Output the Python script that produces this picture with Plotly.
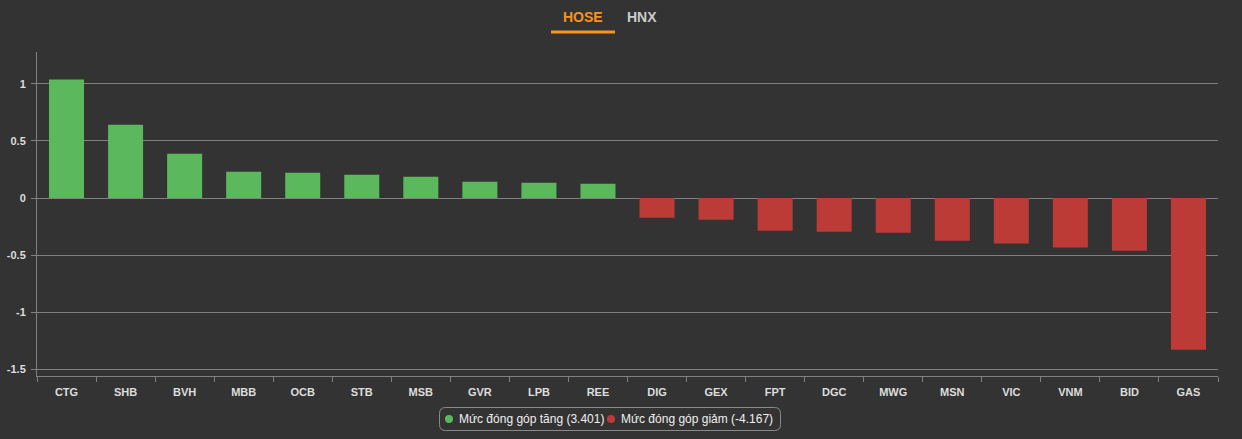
import plotly.graph_objects as go

categories = ["CTG", "SHB", "BVH", "MBB", "OCB", "STB", "MSB", "GVR", "LPB", "REE",
              "DIG", "GEX", "FPT", "DGC", "MWG", "MSN", "VIC", "VNM", "BID", "GAS"]
values = [1.038, 0.643, 0.389, 0.231, 0.222, 0.204, 0.187, 0.143, 0.134, 0.125,
          -0.173, -0.190, -0.287, -0.296, -0.304, -0.374, -0.398, -0.433, -0.462, -1.331]
legend_up = "Mức đóng góp tăng (3.401)"
legend_down = "Mức đóng góp giảm (-4.167)"
tab_labels = ["HOSE", "HNX"]

GREEN = "#5cb85c"
RED = "#bd3b36"
BG = "#333333"
GRID = "#808080"
TXT = "#dddddd"

W, H = 1242, 439
ML, MR, MT, MB = 37, 24, 52, 63
PW, PH = W - ML - MR, H - MT - MB


def px(x):
    return (x - ML) / PW


def py(y):
    return (H - MB - y) / PH


colors = [GREEN if v >= 0 else RED for v in values]

fig = go.Figure()
fig.add_trace(go.Bar(x=categories, y=values, marker=dict(color=colors, line=dict(width=0)),
                     showlegend=False, hoverinfo="x+y"))

fig.update_layout(
    width=W, height=H,
    paper_bgcolor=BG, plot_bgcolor=BG,
    margin=dict(l=ML, r=MR, t=MT, b=MB, autoexpand=False),
    bargap=0.407,
    showlegend=False,
    font=dict(family="Arial, Liberation Sans, sans-serif", color=TXT, size=11),
    xaxis=dict(type="category", showgrid=False, showline=True, linecolor=GRID, linewidth=1,
               ticks="outside", tickson="boundaries", ticklen=5, tickcolor=GRID,
               tickfont=dict(size=11, color=TXT, weight="bold"), zeroline=False,
               ticklabelstandoff=6, automargin=False),
    yaxis=dict(range=[-1.56, 1.28], tickvals=[-1.5, -1, -0.5, 0, 0.5, 1],
               ticktext=["-1.5", "-1", "-0.5", "0", "0.5", "1"],
               showgrid=True, gridcolor=GRID, gridwidth=1, zeroline=False,
               showline=True, linecolor=GRID, ticks="outside", ticklen=5, tickcolor=GRID,
               tickfont=dict(size=11, color=TXT, weight="bold"), ticklabelstandoff=3,
               automargin=False),
)

# Tabs
fig.add_annotation(text="<b>" + tab_labels[0] + "</b>", xref="paper", yref="paper",
                   x=px(583), y=py(17), showarrow=False,
                   font=dict(size=14, color="#f7941d"), yanchor="middle")
fig.add_annotation(text="<b>" + tab_labels[1] + "</b>", xref="paper", yref="paper",
                   x=px(642), y=py(17), showarrow=False,
                   font=dict(size=14, color="#cccccc"), yanchor="middle")
fig.add_shape(type="line", xref="paper", yref="paper",
              x0=px(551), x1=px(615), y0=py(32), y1=py(32),
              line=dict(color="#f7941d", width=3))

# Custom legend box (rounded)
bx0, bx1, by0, by1, r = 439.5, 780.5, 407.5, 430.5, 6
rx, ry = r / PW, r / PH
X0, X1, Y0, Y1 = px(bx0), px(bx1), py(by1), py(by0)
path = (f"M {X0+rx},{Y0} L {X1-rx},{Y0} Q {X1},{Y0} {X1},{Y0+ry} "
        f"L {X1},{Y1-ry} Q {X1},{Y1} {X1-rx},{Y1} L {X0+rx},{Y1} "
        f"Q {X0},{Y1} {X0},{Y1-ry} L {X0},{Y0+ry} Q {X0},{Y0} {X0+rx},{Y0} Z")
fig.add_shape(type="path", xref="paper", yref="paper", path=path,
              line=dict(color="#8a8a8a", width=1), fillcolor="rgba(0,0,0,0)")

for cx, col in [(449, GREEN), (611, RED)]:
    dr = 4
    fig.add_shape(type="circle", xref="paper", yref="paper",
                  x0=px(cx - dr), x1=px(cx + dr), y0=py(419 + dr), y1=py(419 - dr),
                  fillcolor=col, line=dict(width=0))

fig.add_annotation(text=legend_up, xref="paper", yref="paper", x=px(456.5), y=py(418.5),
                   xanchor="left", yanchor="middle", showarrow=False,
                   font=dict(size=12, color="#f0f0f0"))
fig.add_annotation(text=legend_down, xref="paper", yref="paper", x=px(618.5), y=py(418.5),
                   xanchor="left", yanchor="middle", showarrow=False,
                   font=dict(size=12, color="#f0f0f0"))

fig.write_html("out.html")
